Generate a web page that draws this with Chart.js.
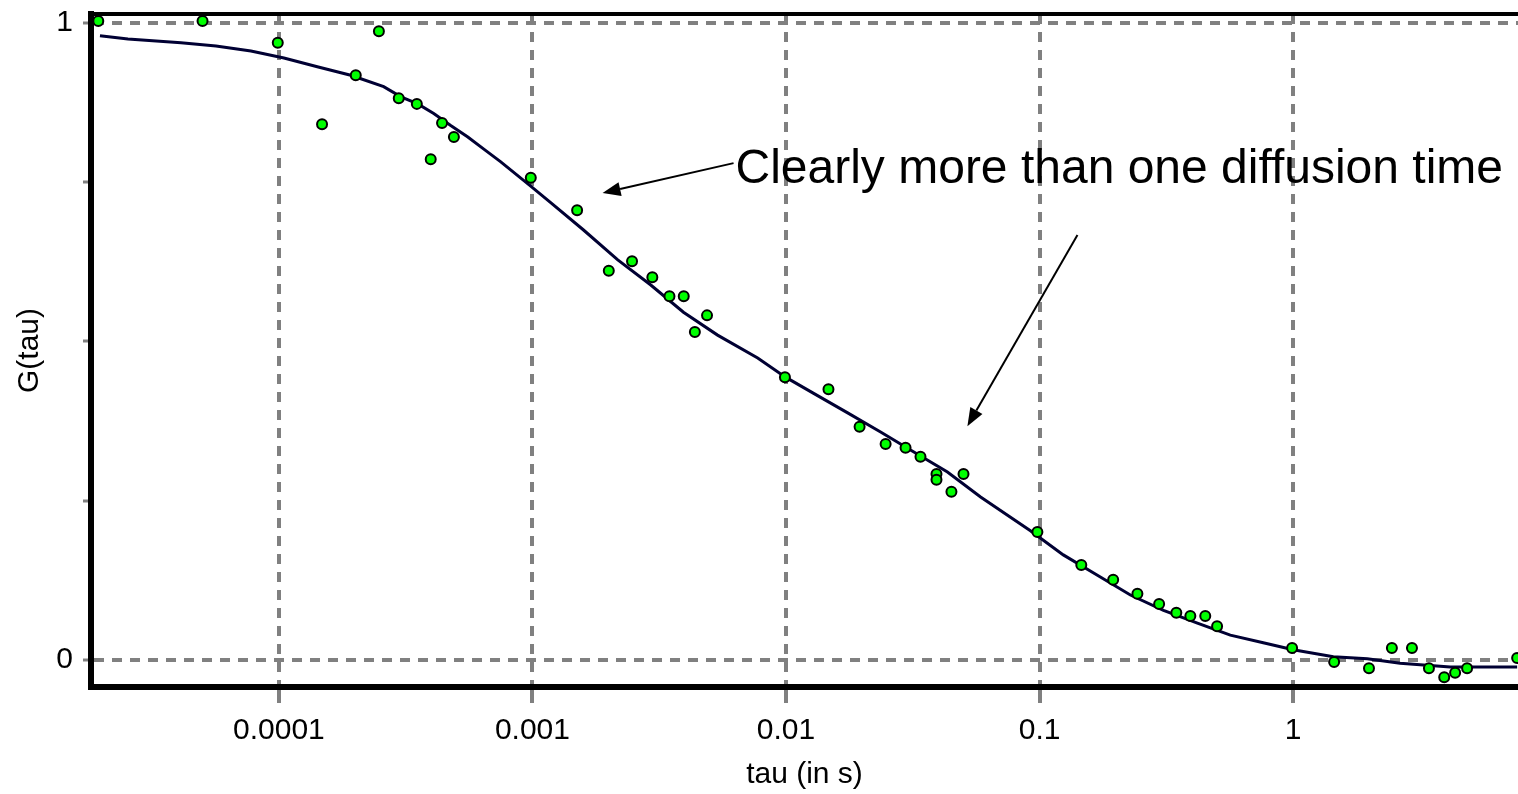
<!DOCTYPE html>
<html>
<head>
<meta charset="utf-8">
<script src="https://cdn.jsdelivr.net/npm/chart.js@4/dist/chart.umd.min.js"></script>
<style>
html,body{margin:0;padding:0;background:#fff;overflow:hidden;}
#wrap{width:1518px;height:794px;}
</style>
</head>
<body>
<div id="wrap"><canvas id="c" width="1518" height="794"></canvas></div>
<script>
// ---- data ----
const curveTau = [1.97e-5, 2.54e-5, 4.11e-5, 5.65e-5, 7.76e-5, 1.047e-4, 1.43e-4, 1.92e-4, 2.59e-4, 3.03e-4,
  3.53e-4, 4.08e-4, 4.76e-4, 5.56e-4, 6.43e-4, 7.50e-4, 9.84e-4, 1.18e-3, 1.59e-3, 2.17e-3,
  2.92e-3, 3.94e-3, 5.37e-3, 7.73e-3, 9.95e-3, 0.0128, 0.0175, 0.0236, 0.0318, 0.0433,
  0.0585, 0.0920, 0.124, 0.169, 0.228, 0.308, 0.419, 0.565, 0.762,
  1.0, 1.44, 1.96, 2.64, 4.16, 7.64];
const curveG = [0.980, 0.975, 0.969, 0.964, 0.956, 0.945, 0.931, 0.918, 0.900, 0.884,
  0.873, 0.858, 0.839, 0.821, 0.802, 0.782, 0.744, 0.718, 0.675, 0.628,
  0.589, 0.546, 0.510, 0.474, 0.444, 0.419, 0.388, 0.358, 0.327, 0.295,
  0.256, 0.203, 0.165, 0.133, 0.102, 0.078, 0.058, 0.039, 0.027,
  0.016, 0.005, 0.002, -0.005, -0.011, -0.011];

const pointTau = [1.94e-5, 5.0e-5, 9.9e-5, 2.48e-4, 1.48e-4, 2.01e-4, 2.97e-4, 3.5e-4, 4.4e-4, 4.9e-4,
  3.97e-4, 9.85e-4, 1.50e-3, 2.0e-3, 2.47e-3, 2.97e-3, 3.47e-3, 3.95e-3, 4.88e-3, 4.37e-3,
  9.9e-3, 0.0147, 0.0195, 0.0247, 0.0296, 0.0339, 0.0392, 0.0392, 0.0501, 0.0449,
  0.098, 0.146, 0.195, 0.243, 0.296, 0.346, 0.393, 0.450, 0.501,
  0.99, 1.45, 1.99, 2.45, 2.94, 3.43, 3.94, 4.35, 4.85, 7.64];
const pointG = [1.003, 1.003, 0.969, 0.987, 0.841, 0.918, 0.882, 0.873, 0.843, 0.821,
  0.786, 0.757, 0.706, 0.611, 0.626, 0.601, 0.571, 0.571, 0.541, 0.515,
  0.444, 0.425, 0.366, 0.339, 0.333, 0.319, 0.292, 0.283, 0.292, 0.264,
  0.201, 0.149, 0.126, 0.104, 0.088, 0.074, 0.069, 0.069, 0.053,
  0.019, -0.003, -0.013, 0.019, 0.019, -0.013, -0.027, -0.020, -0.013, 0.003];

const xTickValues = [0.0001, 0.001, 0.01, 0.1, 1];
const xTickLabels = ['0.0001', '0.001', '0.01', '0.1', '1'];
const yTickValues = [0, 0.25, 0.5, 0.75, 1];
const yTickLabels = ['0', '', '', '', '1'];
const xRange = [1.816e-5, 7.7];
const yRange = [-0.0424, 1.0141];
const xTitle = 'tau (in s)';
const yTitle = 'G(tau)';
const annotationText = 'Clearly more than one diffusion time';
// annotation anchors in data coordinates [tau, G]
const annotationTextAt = [6.32e-3, 0.749];
const arrowFrom1 = [6.21e-3, 0.780], arrowTo1 = [1.89e-3, 0.733];
const arrowFrom2 = [0.141, 0.667], arrowTo2 = [0.0519, 0.367];

// ---- chart ----
const GRID = '#808080';
const FONT = '"Liberation Sans", Arial, sans-serif';

const annotationPlugin = {
  id: 'annot',
  afterDatasetsDraw(chart) {
    const {ctx, scales: {x, y}} = chart;
    const px = p => [x.getPixelForValue(p[0]), y.getPixelForValue(p[1])];
    ctx.save();
    ctx.fillStyle = '#000';
    ctx.font = '48px ' + FONT;
    ctx.textBaseline = 'alphabetic';
    const t = px(annotationTextAt);
    ctx.fillText(annotationText, t[0], t[1]);
    const arrow = (a, b) => {
      const [x1, y1] = px(a), [x2, y2] = px(b);
      const ang = Math.atan2(y2 - y1, x2 - x1);
      const L = 18, W = 7;
      const bx = x2 - L * Math.cos(ang), by = y2 - L * Math.sin(ang);
      ctx.strokeStyle = '#000';
      ctx.lineWidth = 2;
      ctx.beginPath(); ctx.moveTo(x1, y1); ctx.lineTo(bx, by); ctx.stroke();
      ctx.beginPath();
      ctx.moveTo(x2, y2);
      ctx.lineTo(bx + W * Math.sin(ang), by - W * Math.cos(ang));
      ctx.lineTo(bx - W * Math.sin(ang), by + W * Math.cos(ang));
      ctx.closePath(); ctx.fill();
    };
    arrow(arrowFrom1, arrowTo1);
    arrow(arrowFrom2, arrowTo2);
    ctx.restore();
  }
};

new Chart(document.getElementById('c'), {
  data: {
    datasets: [
      {
        type: 'line',
        data: curveTau.map((t, i) => ({x: t, y: curveG[i]})),
        borderColor: '#000033',
        borderWidth: 3,
        pointRadius: 0,
        tension: 0,
        fill: false,
        order: 2
      },
      {
        type: 'scatter',
        data: pointTau.map((t, i) => ({x: t, y: pointG[i]})),
        backgroundColor: '#00ff00',
        borderColor: '#000000',
        borderWidth: 2,
        pointRadius: 5,
        order: 1
      }
    ]
  },
  options: {
    responsive: false,
    animation: false,
    devicePixelRatio: 1,
    layout: {padding: 0, autoPadding: false},
    plugins: {legend: {display: false}, tooltip: {enabled: false}},
    scales: {
      x: {
        type: 'logarithmic',
        position: 'bottom',
        min: xRange[0], max: xRange[1],
        afterBuildTicks: s => { s.ticks = xTickValues.map(v => ({value: v})); },
        afterFit: s => { s.height = 107; s.paddingLeft = 0; s.paddingRight = 0; },
        ticks: {
          autoSkip: false, maxRotation: 0, padding: 10,
          color: '#000', font: {family: FONT, size: 30},
          callback: (v, i) => xTickLabels[i]
        },
        grid: {
          color: GRID, lineWidth: 4,
          drawTicks: true, tickLength: 16, tickColor: GRID, tickWidth: 4, tickBorderDash: []
        },
        border: {display: true, color: '#000', width: 6, dash: [10, 8]},
        title: {display: true, text: xTitle, color: '#000', font: {family: FONT, size: 30}, padding: {top: 0, bottom: 1}}
      },
      xTop: {
        type: 'logarithmic',
        position: 'top',
        min: xRange[0], max: xRange[1],
        afterFit: s => { s.height = 14; s.paddingLeft = 0; s.paddingRight = 0; },
        ticks: {display: false},
        grid: {display: false, drawTicks: false},
        border: {display: true, color: '#000', width: 4}
      },
      y: {
        type: 'linear',
        position: 'left',
        min: yRange[0], max: yRange[1],
        afterBuildTicks: s => { s.ticks = yTickValues.map(v => ({value: v})); },
        afterFit: s => { s.width = 91; s.paddingTop = 0; s.paddingBottom = 0; },
        ticks: {
          autoSkip: false, padding: 10,
          color: '#000', font: {family: FONT, size: 30},
          callback: (v, i) => yTickLabels[i]
        },
        grid: {
          color: c => (c.tick && (c.tick.value === 0 || c.tick.value === 1)) ? GRID : 'rgba(0,0,0,0)',
          lineWidth: 4,
          drawTicks: true, tickLength: 8, tickColor: GRID, tickWidth: 3, tickBorderDash: []
        },
        border: {display: true, color: '#000', width: 6, dash: [10, 8]},
        title: {display: true, text: yTitle, color: '#000', font: {family: FONT, size: 30}, padding: {top: 12, bottom: 0}}
      }
    }
  },
  plugins: [annotationPlugin]
});
</script>
</body>
</html>
